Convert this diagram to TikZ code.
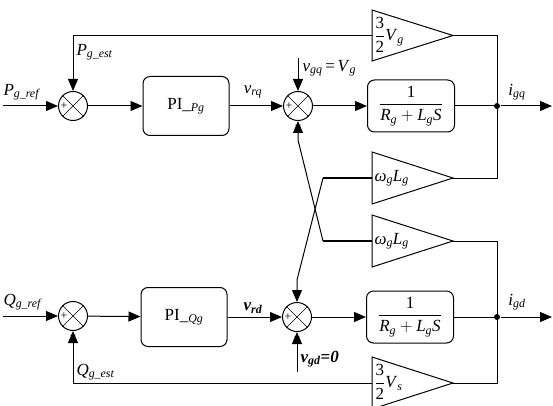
\documentclass[tikz,border=0pt]{standalone}
\usepackage{amsmath}
\usepackage{fontspec}
\setmainfont{Liberation Serif}
\usetikzlibrary{arrows.meta}
\begin{document}
\begin{tikzpicture}[x=1pt,y=-1pt,line width=1pt,
  arr/.style={-{Triangle[length=12pt,width=10pt]}},
  lbl/.style={font=\fontsize{17}{20}\selectfont,inner sep=0pt},
  sumnode/.style={circle,draw,minimum size=29pt,inner sep=0pt},
  blk/.style={draw,rounded corners=7pt,minimum width=86pt,minimum height=59pt,inner sep=0pt,font=\fontsize{17}{20}\selectfont},
  fblk/.style={draw,rounded corners=7pt,minimum width=87pt,minimum height=52pt,inner sep=0pt,font=\fontsize{17}{20}\selectfont},
  dot/.style={circle,fill,inner sep=0pt,minimum size=6pt},
  sign/.style={font=\fontsize{12}{12}\selectfont,inner sep=0pt},
  gain/.style={line width=1pt}]
\useasboundingbox (0,0) rectangle (553,406);

% summing junctions
\node[sumnode] (s1) at (73,106) {};
\node[sumnode] (s2) at (298,106) {};
\node[sumnode] (s3) at (73,316) {};
\node[sumnode] (s4) at (297,317) {};
\foreach \s in {s1,s2,s3,s4}{
  \draw[line width=0.5pt] (\s.north west) -- (\s.south east) (\s.north east) -- (\s.south west);
}
\node[sign] (s1p) at ([xshift=6pt]s1.west) {+};
\node[sign] (s1m) at ([yshift=6pt]s1.north) {\textminus};
\node[sign] (s2p) at ([xshift=6pt]s2.west) {+};
\node[sign] (s2m) at ([yshift=6pt]s2.north) {\textminus};
\node[sign] (s2b) at ([yshift=-6pt]s2.south) {\textminus};
\node[sign] (s3p) at ([xshift=6pt]s3.west) {+};
\node[sign] (s3m) at ([yshift=-6pt]s3.south) {\textminus};
\node[sign] (s4p) at ([xshift=6pt]s4.west) {+};
\node[sign] (s4m) at ([yshift=6pt]s4.north) {\textminus};
\node[sign] (s4b) at ([yshift=-6pt]s4.south) {+};

% blocks
\node[blk] (pi1) at (186,106) {PI\_\textsubscript{\textit{Pg}}};
\node[blk] (pi2) at (184,317) {PI\_\textsubscript{\textit{Qg}}};
\node[fblk] (g1) at (411,106) {$\dfrac{\text{1}}{\text{\itshape R\textsubscript{g}} + \text{\itshape L\textsubscript{g}S}}$};
\node[fblk] (g2) at (410,317) {$\dfrac{\text{1}}{\text{\itshape R\textsubscript{g}} + \text{\itshape L\textsubscript{g}S}}$};

% gain triangles
\draw[gain] (372,10) -- (453,35.5) -- (372,61) -- cycle;
\coordinate (t1b) at (372,35.5); \coordinate (t1t) at (453,35.5);
\draw[gain] (372,152) -- (453,178) -- (372,204) -- cycle;
\coordinate (t2b) at (372,178); \coordinate (t2t) at (453,178);
\draw[gain] (372,215) -- (453,241) -- (372,267) -- cycle;
\coordinate (t3b) at (372,241); \coordinate (t3t) at (453,241);
\draw[gain] (372,357) -- (453,383) -- (372,409) -- cycle;
\coordinate (t4b) at (372,383); \coordinate (t4t) at (453,383);

\node[lbl,anchor=west] (t1l) at (374,35) {$\dfrac{\text{3}}{\text{2}}$\textit{V}\textsubscript{\textit{g}}};
\node[lbl,anchor=west] (t2l) at (374,178) {\textit{ω}\textsubscript{\textit{g}}\textit{L}\textsubscript{\textit{g}}};
\node[lbl,anchor=west] (t3l) at (374,241) {\textit{ω}\textsubscript{\textit{g}}\textit{L}\textsubscript{\textit{g}}};
\node[lbl,anchor=west] (t4l) at (374,382) {$\dfrac{\text{3}}{\text{2}}$\textit{V}\textsubscript{\textit{s}}};

% junctions and outputs
\node[dot] (j1) at (497,106) {};
\node[dot] (j2) at (497,317) {};
\coordinate (o1) at (552,106);
\coordinate (o2) at (552,317);
\draw[arr] (g1) -- (j1) -- (o1);
\draw[arr] (g2) -- (j2) -- (o2);
\node[lbl] (igq) at (517,92) {\textit{i}\textsubscript{\textit{gq}}};
\node[lbl] (igd) at (517,302) {\textit{i}\textsubscript{\textit{gd}}};

\draw (t1t) -- (497,35.5) -- (497,178) -- (t2t);
\draw (t3t) -- (497,241) -- (497,383) -- (t4t);

% forward paths
\coordinate (in1) at (3,106);
\coordinate (in2) at (3,316);
\draw[arr] (in1) -- (s1);
\draw[arr] (in2) -- (s3);
\draw[arr] (s1) -- (pi1);
\draw[arr] (s3) -- (pi2);
\draw[arr] (pi1) -- (s2);
\draw[arr] (pi2) -- (s4);
\draw[arr] (s2) -- (g1);
\draw[arr] (s4) -- (g2);
\node[lbl,anchor=south west] (pref) at (3,101) {\textit{P}\textsubscript{\textit{g\_ref}}};
\node[lbl,anchor=south west] (qref) at (3,311) {\textit{Q}\textsubscript{\textit{g\_ref}}};
\node[lbl] (vrq) at (253,92) {\textit{v}\textsubscript{\textit{rq}}};
\node[lbl] (vrd) at (253,308) {\textbf{\textit{v}\textsubscript{\textit{rd}}}};

% feedback
\draw[arr] (t1b) -- (73,35.5) -- (s1.north);
\node[lbl,anchor=west] (pest) at (76,52) {\textit{P}\textsubscript{\textit{g\_est}}};
\draw[arr] (t4b) -- (73,383) -- (s3.south);
\node[lbl,anchor=west] (qest) at (76,372) {\textit{Q}\textsubscript{\textit{g\_est}}};

% disturbances
\coordinate (vq) at (298,58);
\draw[arr] (vq) -- (s2.north);
\node[lbl,anchor=west] (vgq) at (302,68) {\textit{v}\textsubscript{\textit{gq}}\,=\,\textit{V}\textsubscript{\textit{g}}};
\coordinate (vd) at (297,372);
\draw[arr] (vd) -- (s4.south);
\node[lbl,anchor=west] (vgd) at (300,359) {\textbf{\textit{v}\textsubscript{\textit{gd}}=\textit{0}}};

% cross coupling
\draw[line width=1.8pt] (t2b) -- (323,178);
\draw[arr] (323,178) -- (297,280) -- (s4.north);
\draw[line width=1.8pt] (t3b) -- (323,241);
\draw[arr] (323,241) -- (298,140) -- (s2.south);
\end{tikzpicture}
\end{document}
